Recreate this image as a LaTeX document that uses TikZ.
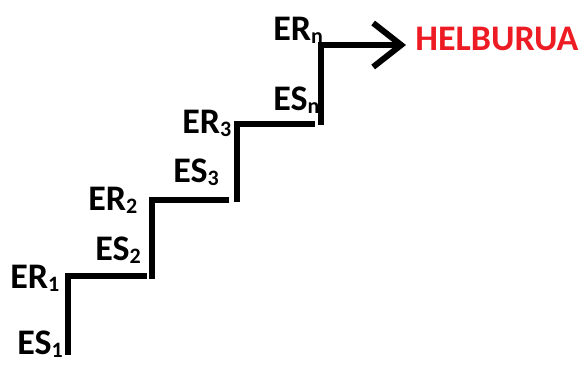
\documentclass[tikz,border=0pt]{standalone}
\usepackage{fontspec}
\setmainfont{Carlito}
\usepackage{xcolor}
\usetikzlibrary{arrows.meta}
\definecolor{goalred}{RGB}{237,28,36}
\newcommand{\lowsub}[1]{\raisebox{-1.5pt}{\fontsize{11}{11}\selectfont #1}}

\begin{document}
\begin{tikzpicture}[x=0.5pt,y=-0.5pt,
    stair/.style={line width=3pt},
    lbl/.style={anchor=base west,inner sep=0pt,font=\fontsize{18}{18}\selectfont\bfseries},
    goal/.style={lbl,text=goalred}]
    \useasboundingbox (0,0) rectangle (588,364);
    % steps
    \draw[stair] (68,355)--(68,276)--(147,276);
    \draw[stair] (152,279)--(152,200)--(229,200);
    \draw[stair] (237,202)--(237,124)--(315,124);
    \draw[stair,-{Straight Barb[length=14pt,width=22pt]}] (321,125)--(321,45)--(406,45);
    % labels
    \node[lbl] (es1) at (17,354) {ES\lowsub{1}};
    \node[lbl] (er1) at (10,288) {ER\lowsub{1}};
    \node[lbl] (es2) at (95,260) {ES\lowsub{2}};
    \node[lbl] (er2) at (88,210) {ER\lowsub{2}};
    \node[lbl] (es3) at (173,182) {ES\lowsub{3}};
    \node[lbl] (er3) at (182,133) {ER\lowsub{3}};
    \node[lbl] (esn) at (273,110) {ES\lowsub{n}};
    \node[lbl] (ern) at (273,40) {ER\lowsub{n}};
    \node[goal] (helb) at (415,50) {HELBURUA};
\end{tikzpicture}
\end{document}
